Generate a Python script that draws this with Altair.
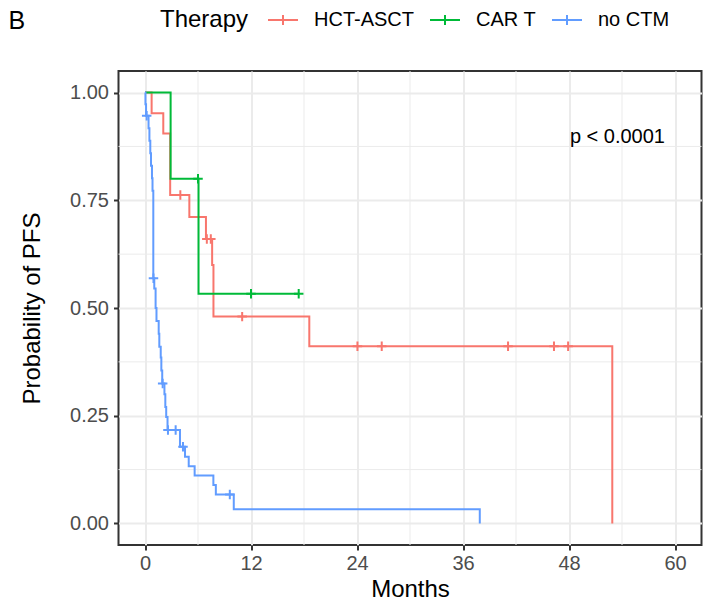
import altair as alt
import pandas as pd

# ---- data ----
groups = ["HCT-ASCT", "CAR T", "no CTM"]
colors = ["#F8766D", "#00BA38", "#619CFF"]

red_time = [0, 0.75, 2.07, 2.85, 5.02, 6.9, 7.6, 7.75, 18.6, 52.9]
red_surv = [1.0, 0.952, 0.905, 0.762, 0.711, 0.660, 0.600, 0.480, 0.411, 0.0]
red_cens_t = [4.0, 7.0, 7.45, 11.0, 24.05, 26.8, 41.1, 46.3, 47.9]
red_cens_s = [0.762, 0.660, 0.660, 0.480, 0.411, 0.411, 0.411, 0.411, 0.411]

green_time = [0, 2.9, 6.06, 17.4]
green_surv = [1.0, 0.8, 0.533, 0.533]
green_cens_t = [6.0, 12.0, 17.4]
green_cens_s = [0.8, 0.533, 0.533]

blue_time = [0, 0.05, 0.12, 0.4, 0.5, 0.6, 0.68, 0.79, 0.85, 0.94, 1.05, 1.2, 1.3,
             1.55, 1.62, 1.78, 1.85, 1.95, 2.2, 2.3, 2.4, 2.55, 3.96, 4.53, 4.95,
             5.62, 7.74, 8.02, 10.05, 37.9]
blue_surv = [1.0, 0.973, 0.946, 0.917, 0.888, 0.859, 0.830, 0.801, 0.772, 0.569,
             0.545, 0.50, 0.47, 0.44, 0.41, 0.385, 0.355, 0.325, 0.30, 0.27, 0.247,
             0.217, 0.178, 0.155, 0.133, 0.111, 0.089, 0.067, 0.033, 0.0]
blue_cens_t = [0.19, 0.96, 2.0, 2.6, 3.47, 4.3, 9.6]
blue_cens_s = [0.946, 0.569, 0.325, 0.217, 0.217, 0.178, 0.067]

x_ticks = [0, 12, 24, 36, 48, 60]
y_ticks = [0, 0.25, 0.5, 0.75, 1.0]
minor_x = [6, 18, 30, 42, 54]
minor_y = [0.125, 0.375, 0.625, 0.875]

pval_text = "p < 0.0001"
pval_x = [48.1]
pval_y = [0.897]

legend_title = "Therapy"
panel_tag = "B"

# ---- tables ----
curves = pd.concat([
    pd.DataFrame({"time": red_time, "surv": red_surv, "Therapy": groups[0]}),
    pd.DataFrame({"time": green_time, "surv": green_surv, "Therapy": groups[1]}),
    pd.DataFrame({"time": blue_time, "surv": blue_surv, "Therapy": groups[2]}),
], ignore_index=True)
cens = pd.concat([
    pd.DataFrame({"time": red_cens_t, "surv": red_cens_s, "Therapy": groups[0]}),
    pd.DataFrame({"time": green_cens_t, "surv": green_cens_s, "Therapy": groups[1]}),
    pd.DataFrame({"time": blue_cens_t, "surv": blue_cens_s, "Therapy": groups[2]}),
], ignore_index=True)

xscale = alt.Scale(domain=[-3, 63], nice=False, zero=False)
yscale = alt.Scale(domain=[-0.05, 1.05], nice=False, zero=False)
cscale = alt.Scale(domain=groups, range=colors)

legend = alt.Legend(
    title=None, orient="none", legendX=148.5, legendY=-67,
    direction="horizontal",
    labelFontSize=20, labelColor="black",
    symbolType="M-1,0H1M0,-0.33V0.33", symbolSize=900, symbolStrokeWidth=2,
    labelOffset=15, columnPadding=12,
)

xaxis = alt.Axis(values=x_ticks, title="Months", grid=True)
yaxis = alt.Axis(values=y_ticks, title="Probability of PFS", format=".2f", grid=True)

lines = alt.Chart(curves).mark_line(interpolate="step-after", strokeWidth=2).encode(
    x=alt.X("time:Q", scale=xscale, axis=xaxis),
    y=alt.Y("surv:Q", scale=yscale, axis=yaxis),
    color=alt.Color("Therapy:N", scale=cscale, legend=legend),
)
grid_x = alt.Chart(pd.DataFrame({"v": minor_x})).mark_rule(
    color="#EBEBEB", strokeWidth=1).encode(x=alt.X("v:Q", scale=xscale, axis=xaxis))
grid_y = alt.Chart(pd.DataFrame({"v": minor_y})).mark_rule(
    color="#EBEBEB", strokeWidth=1).encode(y=alt.Y("v:Q", scale=yscale, axis=yaxis))
points = alt.Chart(cens).mark_point(
    shape="M-1,0H1M0,-1V1", filled=False, size=90, strokeWidth=2, opacity=1
).encode(
    x=alt.X("time:Q", scale=xscale, axis=xaxis),
    y=alt.Y("surv:Q", scale=yscale, axis=yaxis),
    color=alt.Color("Therapy:N", scale=cscale, legend=legend),
)
ptext = alt.Chart(pd.DataFrame({"x": pval_x, "y": pval_y, "t": [pval_text]})).mark_text(
    align="left", baseline="middle", fontSize=20, color="black"
).encode(
    x=alt.X("x:Q", scale=xscale, axis=xaxis),
    y=alt.Y("y:Q", scale=yscale, axis=yaxis),
    text="t:N",
)
tag = alt.Chart(pd.DataFrame({"t": [panel_tag]})).mark_text(
    align="left", baseline="middle", fontSize=25, color="black"
).encode(x=alt.value(-110), y=alt.value(-50.5), text="t:N")
ltitle = alt.Chart(pd.DataFrame({"t": [legend_title]})).mark_text(
    align="left", baseline="middle", fontSize=24, color="black"
).encode(x=alt.value(41.5), y=alt.value(-51.5), text="t:N")

chart = alt.layer(grid_x, grid_y, lines, points, ptext, tag, ltitle).properties(
    width=583, height=474,
    autosize=alt.AutoSizeParams(type="none"),
    padding={"left": 110.5, "top": 63, "right": 1.5, "bottom": 55},
).configure(font="Liberation Sans").configure_axis(
    gridColor="#EBEBEB", gridWidth=2, domain=False,
    tickColor="#333333", tickWidth=2, tickSize=5,
    labelFontSize=20, labelColor="#4D4D4D", labelPadding=5,
    titleFontSize=24, titleFontWeight="normal", titleColor="black",
).configure_axisY(titlePadding=25).configure_axisX(titlePadding=4, labelPadding=3).configure_view(
    stroke="#333333", strokeWidth=2
)

chart.save("out.html", embed_options={"renderer": "svg", "actions": False})
